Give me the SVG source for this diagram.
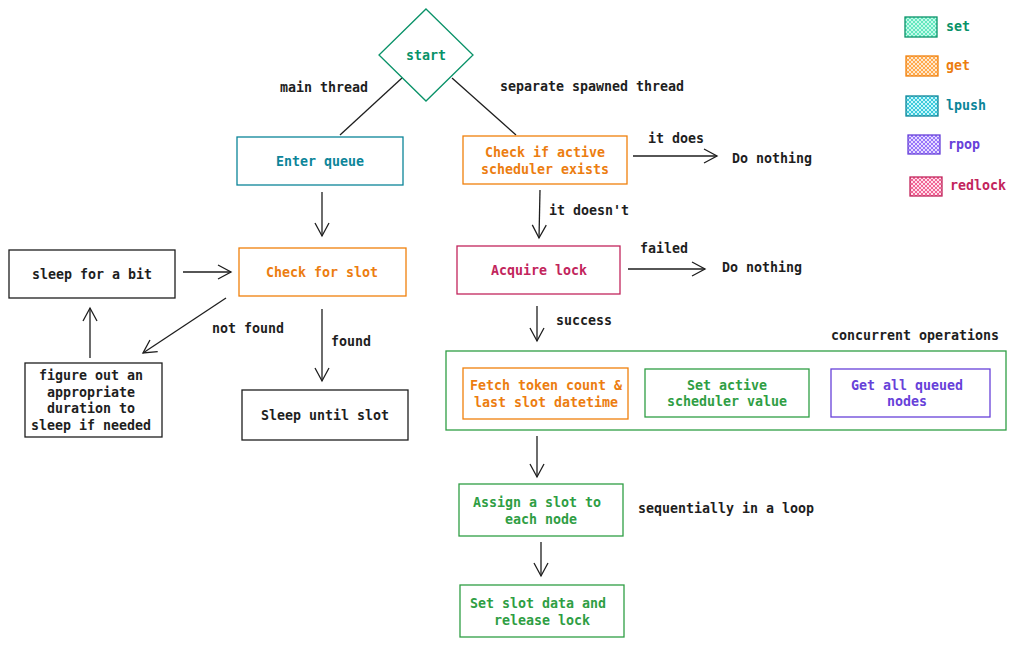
<svg xmlns="http://www.w3.org/2000/svg" width="1017" height="646" viewBox="0 0 1017 646">
<style>
text{font-family:"DejaVu Sans Mono","Liberation Mono",monospace;font-size:13.3px;fill:#1e1e1e;font-weight:bold}
.c{text-anchor:middle}
.box{fill:#fff;stroke-width:1.3}
.k{stroke:#1e1e1e}
.teal{stroke:#099268}.tealt{fill:#099268}
.cyan{stroke:#0c8599}.cyant{fill:#0c8599}
.org{stroke:#f0800c}.orgt{fill:#ec7d10}
.red{stroke:#c2255c}.redt{fill:#c2255c}
.grn{stroke:#2f9e44}.grnt{fill:#2f9e44}
.vio{stroke:#6741d9}.viot{fill:#6741d9}
.conn line,.conn path{stroke:#1e1e1e;stroke-width:1.3;fill:none}
.arr{marker-end:url(#ah)}
</style>
<defs>
<marker id="ah" markerUnits="userSpaceOnUse" markerWidth="22" markerHeight="22" refX="14" refY="11" orient="auto">
<path d="M1,4 L14,11 L1,18" fill="none" stroke="#1e1e1e" stroke-width="1.3"/>
</marker>
<pattern id="hset" width="4" height="4" patternUnits="userSpaceOnUse"><rect width="4" height="4" fill="#c3fae8"/><path d="M0,4L4,0M0,0L4,4" stroke="#63e6be" stroke-width="1"/></pattern>
<pattern id="hget" width="4" height="4" patternUnits="userSpaceOnUse"><rect width="4" height="4" fill="#ffe8cc"/><path d="M0,4L4,0M0,0L4,4" stroke="#ffa94d" stroke-width="1"/></pattern>
<pattern id="hlp" width="4" height="4" patternUnits="userSpaceOnUse"><rect width="4" height="4" fill="#c5f6fa"/><path d="M0,4L4,0M0,0L4,4" stroke="#3bc9db" stroke-width="1"/></pattern>
<pattern id="hrp" width="4" height="4" patternUnits="userSpaceOnUse"><rect width="4" height="4" fill="#e5dbff"/><path d="M0,4L4,0M0,0L4,4" stroke="#9775fa" stroke-width="1"/></pattern>
<pattern id="hrl" width="4" height="4" patternUnits="userSpaceOnUse"><rect width="4" height="4" fill="#ffdeeb"/><path d="M0,4L4,0M0,0L4,4" stroke="#f06595" stroke-width="1"/></pattern>
</defs>
<rect width="1017" height="646" fill="#fff"/>

<g id="connectors" class="conn">
<line x1="402" y1="78" x2="340" y2="135"/>
<line x1="452" y1="78" x2="516" y2="135"/>
<line class="arr" x1="322" y1="192" x2="322" y2="236"/>
<line class="arr" x1="183" y1="272" x2="231" y2="272"/>
<line class="arr" x1="226" y1="298" x2="143" y2="353"/>
<line class="arr" x1="322" y1="309" x2="322" y2="381"/>
<line class="arr" x1="90" y1="358" x2="90" y2="308"/>
<line class="arr" x1="540" y1="190" x2="539" y2="238"/>
<line class="arr" x1="633" y1="156" x2="717" y2="156"/>
<line class="arr" x1="628" y1="269" x2="705" y2="269"/>
<line class="arr" x1="537" y1="306" x2="537" y2="341"/>
<line class="arr" x1="537" y1="436" x2="537" y2="477"/>
<line class="arr" x1="541" y1="542" x2="541" y2="576"/>
</g>

<g id="labels">
<text x="280" y="92">main thread</text>
<text x="500" y="91">separate spawned thread</text>
<text x="648" y="143">it does</text>
<text x="732" y="163">Do nothing</text>
<text x="549" y="215">it doesn't</text>
<text x="640" y="253">failed</text>
<text x="722" y="272">Do nothing</text>
<text x="556" y="325">success</text>
<text x="212" y="333">not found</text>
<text x="331" y="346">found</text>
<text x="831" y="340">concurrent operations</text>
<text x="638" y="513">sequentially in a loop</text>
</g>

<g id="start">
<polygon points="426,9 473,55 426,101 379,55" fill="#fff" stroke="#099268" stroke-width="1.3"/>
<text class="c tealt" x="426" y="60">start</text>
</g>

<g id="enter-queue">
<rect class="box cyan" x="237" y="137" width="166" height="48"/>
<text class="c cyant" x="320" y="166">Enter queue</text>
</g>

<g id="check-active">
<rect class="box org" x="463" y="136" width="164" height="48"/>
<text class="c orgt" x="545" y="157">Check if active</text>
<text class="c orgt" x="545" y="174">scheduler exists</text>
</g>

<g id="check-slot">
<rect class="box org" x="239" y="248" width="167" height="48"/>
<text class="c orgt" x="322" y="277">Check for slot</text>
</g>

<g id="sleep-bit">
<rect class="box k" x="9" y="250" width="166" height="48"/>
<text class="c" x="92" y="279">sleep for a bit</text>
</g>

<g id="figure-out">
<rect class="box k" x="25" y="363" width="137" height="74"/>
<text class="c" x="91" y="380">figure out an</text>
<text class="c" x="91" y="397">appropriate</text>
<text class="c" x="91" y="413">duration to</text>
<text class="c" x="91" y="430">sleep if needed</text>
</g>

<g id="sleep-until">
<rect class="box k" x="242" y="390" width="166" height="50"/>
<text class="c" x="325" y="420">Sleep until slot</text>
</g>

<g id="acquire-lock">
<rect class="box red" x="457" y="246" width="163" height="48"/>
<text class="c redt" x="539" y="275">Acquire lock</text>
</g>

<g id="concurrent">
<rect class="box grn" x="446" y="351" width="560" height="79"/>
</g>

<g id="fetch-token">
<rect class="box org" x="463" y="368" width="165" height="51"/>
<text class="c orgt" x="546" y="390">Fetch token count &amp;</text>
<text class="c orgt" x="546" y="407">last slot datetime</text>
</g>

<g id="set-active">
<rect class="box grn" x="645" y="369" width="164" height="48"/>
<text class="c grnt" x="727" y="390">Set active</text>
<text class="c grnt" x="727" y="406">scheduler value</text>
</g>

<g id="get-queued">
<rect class="box vio" x="831" y="369" width="159" height="48"/>
<text class="c viot" x="907" y="390">Get all queued</text>
<text class="c viot" x="907" y="406">nodes</text>
</g>

<g id="assign-slot">
<rect class="box grn" x="459" y="484" width="164" height="52"/>
<text class="c grnt" x="537" y="507">Assign a slot to</text>
<text class="c grnt" x="541" y="524">each node</text>
</g>

<g id="set-slot-data">
<rect class="box grn" x="460" y="585" width="164" height="52"/>
<text class="c grnt" x="538" y="608">Set slot data and</text>
<text class="c grnt" x="542" y="625">release lock</text>
</g>

<g id="legend">
<rect x="905" y="17" width="32" height="20" fill="url(#hset)" stroke="#099268" stroke-width="1.3"/>
<text class="tealt" x="946" y="31">set</text>
<rect x="906" y="56" width="32" height="20" fill="url(#hget)" stroke="#f0800c" stroke-width="1.3"/>
<text class="orgt" x="946" y="70">get</text>
<rect x="906" y="96" width="32" height="20" fill="url(#hlp)" stroke="#0c8599" stroke-width="1.3"/>
<text class="cyant" x="946" y="110">lpush</text>
<rect x="908" y="135" width="32" height="19" fill="url(#hrp)" stroke="#6741d9" stroke-width="1.3"/>
<text class="viot" x="948" y="149">rpop</text>
<rect x="910" y="177" width="32" height="19" fill="url(#hrl)" stroke="#c2255c" stroke-width="1.3"/>
<text class="redt" x="950" y="190">redlock</text>
</g>
</svg>
